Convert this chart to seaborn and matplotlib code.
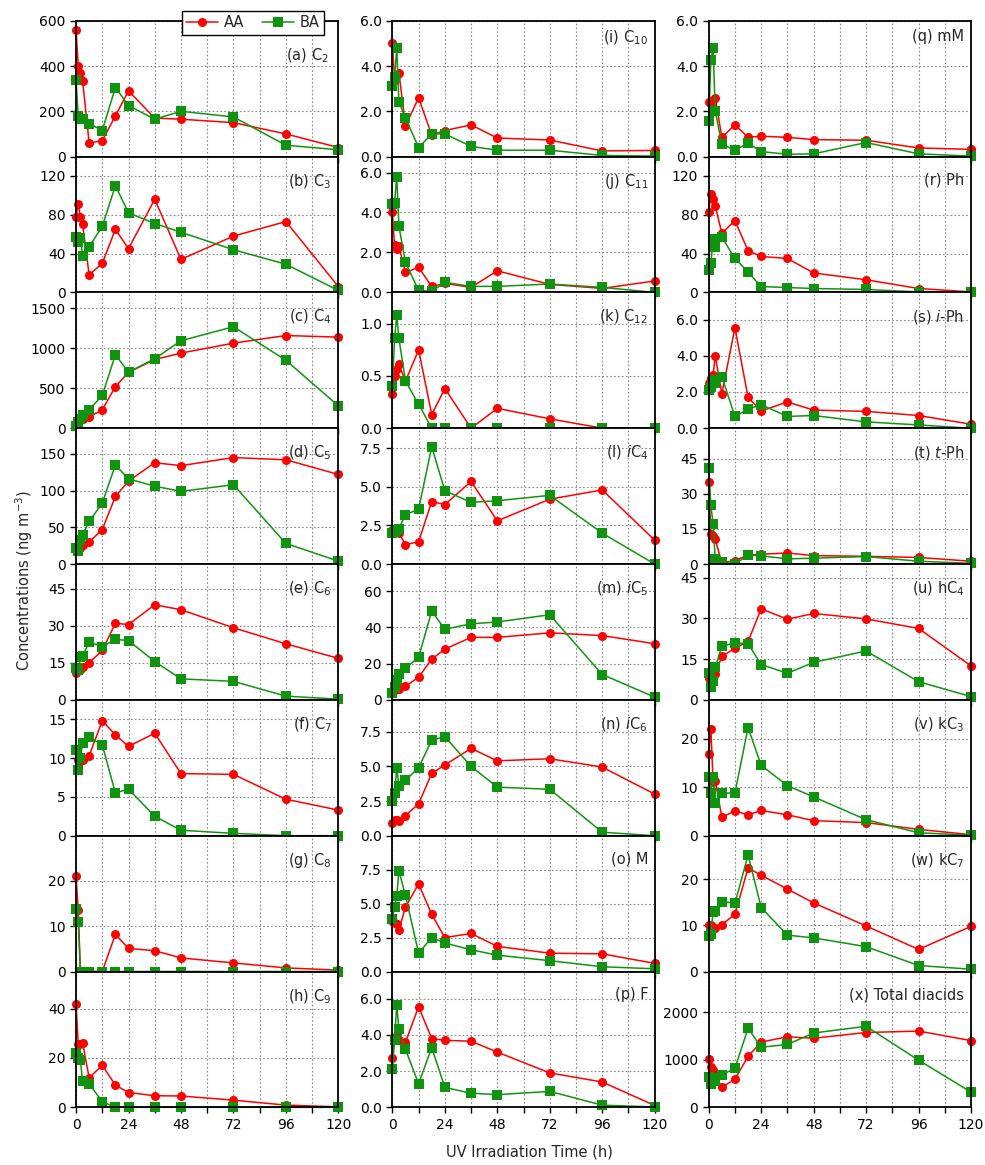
import matplotlib
matplotlib.use("Agg")
import numpy as np
import pandas as pd
import matplotlib.pyplot as plt
import seaborn as sns
from matplotlib.ticker import FormatStrFormatter, MultipleLocator

# ---------------- data ----------------
time_h = [0, 1, 2, 3, 6, 12, 18, 24, 36, 48, 72, 96, 120]
series_names = ["AA", "BA"]

C2_AA = [560, 400, 370, 335, 60, 70, 180, 290, 170, 165, 150, 100, 40]
C2_BA = [340, 178, 168, 165, 145, 115, 305, 225, 165, 200, 175, 50, 30]
C3_AA = [78, 91, 78, 70, 18, 30, 65, 45, 96, 34, 58, 73, 6]
C3_BA = [57, 52, 56, 38, 47, 68, 110, 82, 71, 62, 44, 29, 2]
C4_AA = [60, 80, 100, 120, 140, 230, 520, 700, 860, 940, 1065, 1160, 1140]
C4_BA = [30, 80, 120, 170, 230, 410, 920, 700, 870, 1095, 1270, 850, 280]
C5_AA = [20, 20, 22, 26, 30, 47, 92, 113, 138, 134, 145, 142, 122]
C5_BA = [22, 18, 33, 40, 58, 83, 135, 116, 106, 99, 108, 28, 4]
C6_AA = [11, 12.5, 12, 13.5, 15, 20, 31, 30.5, 38.5, 36.5, 29.2, 22.7, 16.8]
C6_BA = [13, 12, 17.5, 17.7, 23.5, 21.5, 24.5, 24, 15.5, 8.5, 7.5, 1.5, 0.3]
C7_AA = [11, 9.7, 9.6, 9.8, 10.3, 14.8, 13, 11.5, 13.2, 8.0, 7.9, 4.7, 3.3]
C7_BA = [11, 8.4, 10, 12, 12.7, 11.7, 5.5, 6.0, 2.5, 0.7, 0.3, 0.0, 0.0]
C8_AA = [21, 13.5, 0, 0, 0, 0, 8.2, 5.1, 4.6, 3.0, 1.9, 0.8, 0.3]
C8_BA = [13.7, 11, 0, 0, 0, 0, 0, 0, 0, 0, 0, 0, 0]
C9_AA = [42, 25.5, 25.5, 26, 12, 17, 9, 6, 4.7, 4.6, 2.9, 0.9, 0.2]
C9_BA = [22, 20, 19, 10.5, 9.5, 2.3, 0, 0, 0, 0, 0, 0, 0]
C10_AA = [5.0, 3.4, 3.6, 3.7, 1.35, 2.6, 0.95, 1.15, 1.4, 0.82, 0.73, 0.25, 0.27]
C10_BA = [3.1, 3.5, 4.8, 2.4, 1.7, 0.4, 1.0, 1.0, 0.45, 0.28, 0.28, 0.05, 0.02]
C11_AA = [4.0, 2.35, 2.15, 2.3, 1.0, 1.25, 0.3, 0.45, 0.25, 1.08, 0.4, 0.2, 0.57]
C11_BA = [4.4, 4.5, 5.8, 3.3, 1.5, 0.1, 0.05, 0.5, 0.3, 0.3, 0.42, 0.25, 0.0]
C12_AA = [0.33, 0.5, 0.57, 0.61, 0.45, 0.75, 0.13, 0.38, 0.0, 0.19, 0.09, 0.0, 0.0]
C12_BA = [0.4, 0.86, 1.08, 0.86, 0.45, 0.23, 0, 0, 0, 0, 0, 0, 0]
iC4_AA = [2.2, 2.3, 2.1, 2.0, 1.25, 1.45, 4.05, 3.85, 5.35, 2.8, 4.2, 4.8, 1.55]
iC4_BA = [2.0, 2.1, 2.2, 2.3, 3.2, 3.55, 7.6, 4.75, 4.0, 4.1, 4.45, 2.0, 0.0]
iC5_AA = [5, 5.5, 5.8, 6.2, 7.5, 12.5, 22.5, 28, 34.5, 34.5, 37, 35.5, 31]
iC5_BA = [4, 7, 11, 14.5, 17.5, 23.5, 49, 39, 42, 43, 47, 14, 1.5]
iC6_AA = [0.9, 1.1, 1.1, 1.05, 1.45, 2.3, 4.5, 5.1, 6.3, 5.4, 5.55, 4.95, 3.0]
iC6_BA = [2.5, 3.1, 4.85, 3.6, 4.0, 4.9, 6.9, 7.15, 5.0, 3.5, 3.35, 0.25, 0.0]
M_AA = [3.7, 3.6, 3.5, 3.05, 4.75, 6.45, 4.2, 2.5, 2.8, 1.85, 1.35, 1.3, 0.6]
M_BA = [3.9, 4.75, 5.55, 7.4, 5.6, 1.35, 2.5, 2.1, 1.6, 1.2, 0.8, 0.35, 0.2]
F_AA = [2.7, 3.8, 4.0, 3.7, 3.6, 5.55, 3.8, 3.7, 3.65, 3.05, 1.9, 1.4, 0.1]
F_BA = [2.1, 3.7, 5.65, 4.3, 3.2, 1.3, 3.3, 1.1, 0.78, 0.7, 0.88, 0.12, 0.02]
mM_AA = [2.4, 2.3, 2.5, 2.6, 0.85, 1.4, 0.85, 0.9, 0.85, 0.75, 0.72, 0.38, 0.32]
mM_BA = [1.55, 4.25, 4.8, 2.0, 0.55, 0.28, 0.6, 0.22, 0.1, 0.12, 0.62, 0.12, 0.02]
Ph_AA = [83, 101, 96, 89, 61, 74, 43, 37, 35, 20, 13, 4, 0.5]
Ph_BA = [23, 30, 55, 47, 57, 35, 21, 6, 5, 4, 3, 0.5, 0]
iPh_AA = [2.5, 2.8, 2.95, 4.0, 1.9, 5.55, 1.7, 0.95, 1.45, 1.0, 0.93, 0.7, 0.22]
iPh_BA = [2.1, 2.3, 2.65, 2.5, 2.85, 0.65, 1.05, 1.3, 0.65, 0.7, 0.35, 0.18, 0.0]
tPh_AA = [35, 13, 12, 10.5, 0.5, 1.5, 3.8, 4.2, 4.7, 3.6, 3.3, 2.8, 1.2]
tPh_BA = [41, 25, 17, 2.2, 1.0, 0.0, 3.8, 3.5, 2.2, 2.5, 3.2, 1.2, 0.3]
hC4_AA = [8, 10.5, 9, 9.5, 16, 19, 21.5, 33.5, 29.7, 31.8, 29.8, 26.3, 12.5]
hC4_BA = [10, 4.8, 6.8, 12, 19.7, 21, 20.7, 13, 9.8, 13.8, 18, 6.7, 1.2]
kC3_AA = [16.8, 22, 11, 11.3, 3.8, 5.1, 4.3, 5.2, 4.3, 3.1, 2.7, 1.3, 0.2]
kC3_BA = [12.2, 8.8, 12.2, 6.8, 8.8, 8.8, 22.3, 14.5, 10.3, 8.0, 3.3, 0.6, 0.1]
kC7_AA = [10, 10.2, 9.2, 9.5, 10.2, 12.4, 22.5, 20.9, 17.9, 14.9, 9.9, 4.8, 9.8]
kC7_BA = [7.8, 8.2, 13, 13.2, 15.2, 14.8, 25.3, 13.9, 7.9, 7.3, 5.4, 1.3, 0.5]
Total_AA = [1020, 850, 780, 680, 420, 590, 1070, 1370, 1480, 1450, 1570, 1600, 1400]
Total_BA = [640, 480, 620, 560, 680, 820, 1660, 1260, 1320, 1560, 1700, 990, 320]

panel_labels = [
    "(a) C$_2$", "(b) C$_3$", "(c) C$_4$", "(d) C$_5$", "(e) C$_6$", "(f) C$_7$",
    "(g) C$_8$", "(h) C$_9$",
    "(i) C$_{10}$", "(j) C$_{11}$", "(k) C$_{12}$", "(l) $\\mathit{i}$C$_4$",
    "(m) $\\mathit{i}$C$_5$", "(n) $\\mathit{i}$C$_6$", "(o) M", "(p) F",
    "(q) mM", "(r) Ph", "(s) $\\mathit{i}$-Ph", "(t) $\\mathit{t}$-Ph",
    "(u) hC$_4$", "(v) kC$_3$", "(w) kC$_7$", "(x) Total diacids",
]
aa_series = [C2_AA, C3_AA, C4_AA, C5_AA, C6_AA, C7_AA, C8_AA, C9_AA,
             C10_AA, C11_AA, C12_AA, iC4_AA, iC5_AA, iC6_AA, M_AA, F_AA,
             mM_AA, Ph_AA, iPh_AA, tPh_AA, hC4_AA, kC3_AA, kC7_AA, Total_AA]
ba_series = [C2_BA, C3_BA, C4_BA, C5_BA, C6_BA, C7_BA, C8_BA, C9_BA,
             C10_BA, C11_BA, C12_BA, iC4_BA, iC5_BA, iC6_BA, M_BA, F_BA,
             mM_BA, Ph_BA, iPh_BA, tPh_BA, hC4_BA, kC3_BA, kC7_BA, Total_BA]
y_ticks = [
    [0, 200, 400, 600], [0, 40, 80, 120], [0, 500, 1000, 1500], [0, 50, 100, 150],
    [0, 15, 30, 45], [0, 5, 10, 15], [0, 10, 20], [0, 20, 40],
    [0, 2, 4, 6], [0, 2, 4, 6], [0, 0.5, 1.0], [0, 2.5, 5, 7.5],
    [0, 20, 40, 60], [0, 2.5, 5, 7.5], [0, 2.5, 5, 7.5], [0, 2, 4, 6],
    [0, 2, 4, 6], [0, 40, 80, 120], [0, 2, 4, 6], [0, 15, 30, 45],
    [0, 15, 30, 45], [0, 10, 20], [0, 10, 20], [0, 1000, 2000],
]
y_max = [600, 140, 1700, 185, 55, 17.5, 30, 55,
         6, 6.8, 1.3, 8.8, 75, 9.8, 10, 7.5,
         6, 140, 7.5, 58, 50, 28, 29.5, 2850]
y_fmt = ["%d"] * 8 + ["%.1f"] * 4 + ["%d"] + ["%.1f"] * 3 + \
        ["%.1f", "%d", "%.1f", "%d", "%d", "%d", "%d", "%d"]
x_ticks = [0, 24, 48, 72, 96, 120]

# ---------------- plot ----------------
sns.set_style("ticks")
plt.rcParams["font.family"] = ["DejaVu Sans"]
plt.rcParams["mathtext.fontset"] = "dejavusans"

fig, axes = plt.subplots(
    8, 3, figsize=(9.85, 11.65), dpi=100, sharex=True,
    gridspec_kw=dict(left=0.0772, right=0.9858, top=0.9822, bottom=0.0495,
                     hspace=0, wspace=0.206))

palette = {"AA": "#ff0000", "BA": "#109410"}
markers = {"AA": "o", "BA": "s"}

for k in range(24):
    col, row = divmod(k, 8)
    ax = axes[row, col]
    aa, ba = aa_series[k], ba_series[k]
    df = pd.DataFrame({
        "time": time_h + time_h,
        "value": aa + ba,
        "series": ["AA"] * len(aa) + ["BA"] * len(ba),
    })
    sns.lineplot(data=df, x="time", y="value", hue="series", style="series",
                 hue_order=series_names, style_order=series_names,
                 markers=markers, dashes=False, palette=palette,
                 errorbar=None, sort=False, ax=ax, linewidth=1.1,
                 markersize=6.5, markeredgewidth=0, clip_on=False,
                 legend=(k == 0), zorder=3)
    ax.set_xlim(0, 120)
    ax.set_ylim(0, y_max[k])
    ax.set_yticks(y_ticks[k])
    ax.yaxis.set_major_formatter(FormatStrFormatter(y_fmt[k]))
    ax.set_xticks(x_ticks)
    ax.xaxis.set_minor_locator(MultipleLocator(12))
    ax.grid(which="major", axis="y", ls=(0, (1.5, 2)), color="#888888", lw=0.8)
    ax.grid(which="both", axis="x", ls=(0, (1.5, 2)), color="#888888", lw=0.8)
    ax.set_axisbelow(True)
    ax.set_xlabel("")
    ax.set_ylabel("")
    for sp in ax.spines.values():
        sp.set_visible(True)
        sp.set_linewidth(1.3)
        sp.set_color("black")
        sp.set_zorder(4)
    ax.tick_params(axis="both", which="both", direction="out", width=1.0,
                   labelsize=10, color="black", labelcolor="black")
    ax.tick_params(axis="both", which="major", length=4)
    ax.tick_params(axis="x", which="minor", length=4)
    if row < 7:
        ax.tick_params(axis="x", labelbottom=False)
    if k == 0:
        ly = 0.81
    elif row == 0:
        ly = 0.94
    else:
        ly = 0.885
    ax.text(0.975 if k != 0 else 0.965, ly, panel_labels[k], transform=ax.transAxes,
            ha="right", va="top", fontsize=10.5, zorder=6)

sns.move_legend(axes[0, 0], loc="center", bbox_to_anchor=(0.675, 0.985),
                ncol=2, title=None, frameon=True, fancybox=False,
                edgecolor="black", framealpha=1, fontsize=10.5,
                handlelength=2.2, columnspacing=1.2, handletextpad=0.4,
                borderpad=0.3)
leg = axes[0, 0].get_legend()
leg.get_frame().set_linewidth(1.0)
leg.set_zorder(10)

fig.text(0.025, 0.502, "Concentrations (ng m$^{-3}$)", rotation=90,
         ha="center", va="center", fontsize=10.5)
fig.text(0.538, 0.011, "UV Irradiation Time (h)", ha="center", va="center",
         fontsize=10.5)

fig.savefig("out.png", dpi=100)
